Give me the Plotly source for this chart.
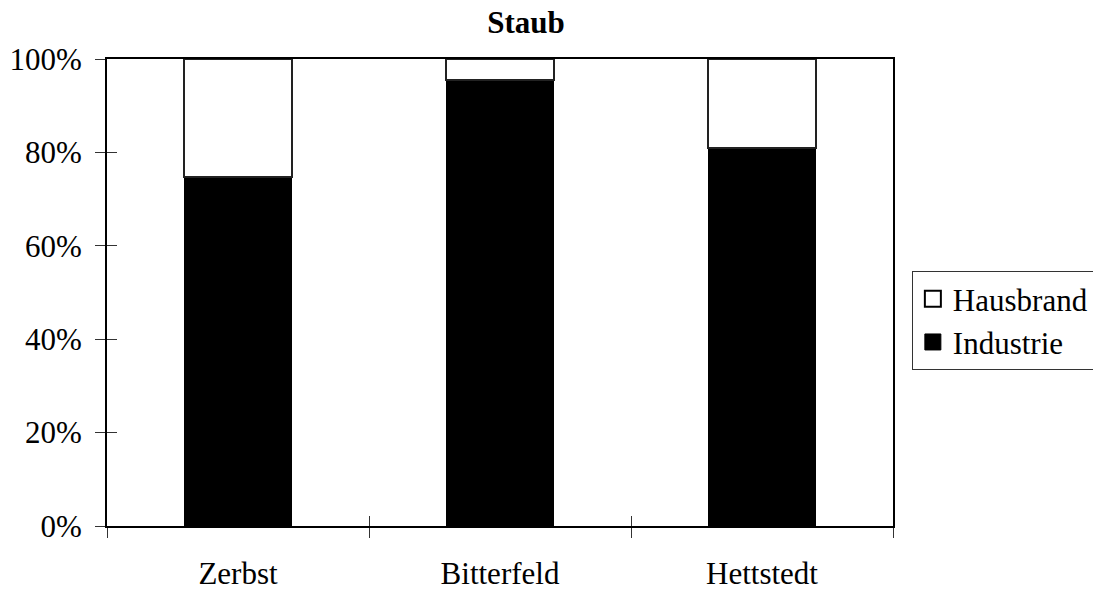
from plotly import graph_objects as go

cities = ["Zerbst", "Bitterfeld", "Hettstedt"]
industrie = [74.7, 95.5, 80.9]
hausbrand = [25.3, 4.5, 19.1]
ytick_vals = [0, 20, 40, 60, 80, 100]
ytick_text = ["0%", "20%", "40%", "60%", "80%", "100%"]

FONT = "Liberation Serif"
FS = 31

fig = go.Figure()
fig.add_trace(go.Bar(x=cities, y=industrie, name="Industrie", showlegend=False,
                     marker=dict(color="black", line=dict(color="black", width=1.5)),
                     width=0.41))
fig.add_trace(go.Bar(x=cities, y=hausbrand, name="Hausbrand", showlegend=False,
                     marker=dict(color="white", line=dict(color="#222", width=2)),
                     width=0.41))
# legend entries with larger square swatches
fig.add_trace(go.Scatter(x=[None], y=[None], mode="markers", name="Industrie",
                         marker=dict(symbol="square", size=19, color="black",
                                     line=dict(color="black", width=1))))
fig.add_trace(go.Scatter(x=[None], y=[None], mode="markers", name="Hausbrand",
                         marker=dict(symbol="square", size=19, color="white",
                                     line=dict(color="black", width=2))))
# helper trace so the second axes pair exists (crossing ticks)
fig.add_trace(go.Bar(x=cities, y=[0, 0, 0], xaxis="x2", yaxis="y2",
                     showlegend=False, hoverinfo="skip", marker=dict(color="rgba(0,0,0,0)")))

fig.update_layout(
    barmode="stack",
    width=1093, height=590,
    margin=dict(l=107, r=200, t=59, b=63.5, autoexpand=False),
    paper_bgcolor="white", plot_bgcolor="white",
    font=dict(family=FONT, size=FS, color="black"),
    title=dict(text="<b>Staub</b>", x=0.533, xref="paper", xanchor="center",
               y=1 - 22 / 590, yref="container", yanchor="middle",
               font=dict(family=FONT, size=FS, color="black")),
    showlegend=True,
    legend=dict(x=1.024, y=0.546, xanchor="left", yanchor="top",
                traceorder="reversed", bordercolor="#333", borderwidth=1,
                font=dict(family=FONT, size=FS, color="black"),
                itemwidth=30, tracegroupgap=0),
    xaxis=dict(type="category", tickson="boundaries", ticks="outside", ticklen=10,
               tickcolor="#333", tickwidth=1, showline=True, linecolor="black",
               linewidth=2, mirror=True, showgrid=False, zeroline=False,
               ticklabelstandoff=19, range=[-0.5, 2.5], automargin=False),
    yaxis=dict(range=[0, 100], tickvals=ytick_vals, ticktext=ytick_text,
               ticks="outside", ticklen=10, tickcolor="#333", tickwidth=1,
               showline=True, linecolor="black", linewidth=2, mirror=True,
               showgrid=False, zeroline=False, ticklabelstandoff=7, automargin=False),
    xaxis2=dict(type="category", overlaying="x", tickson="boundaries", ticks="inside",
                ticklen=10, tickcolor="#333", tickwidth=1, showticklabels=False,
                showline=False, showgrid=False, zeroline=False, range=[-0.5, 2.5],
                automargin=False),
    yaxis2=dict(overlaying="y", range=[0, 100], tickvals=ytick_vals[1:-1],
                ticks="inside", ticklen=10, tickcolor="#333", tickwidth=1,
                showticklabels=False, showline=False, showgrid=False, zeroline=False,
                automargin=False),
)

# drop the default page margin so the figure sits at the window's top-left corner
fig.write_html("out.html", config={"displayModeBar": False},
               post_script="document.body.style.margin='0';")
